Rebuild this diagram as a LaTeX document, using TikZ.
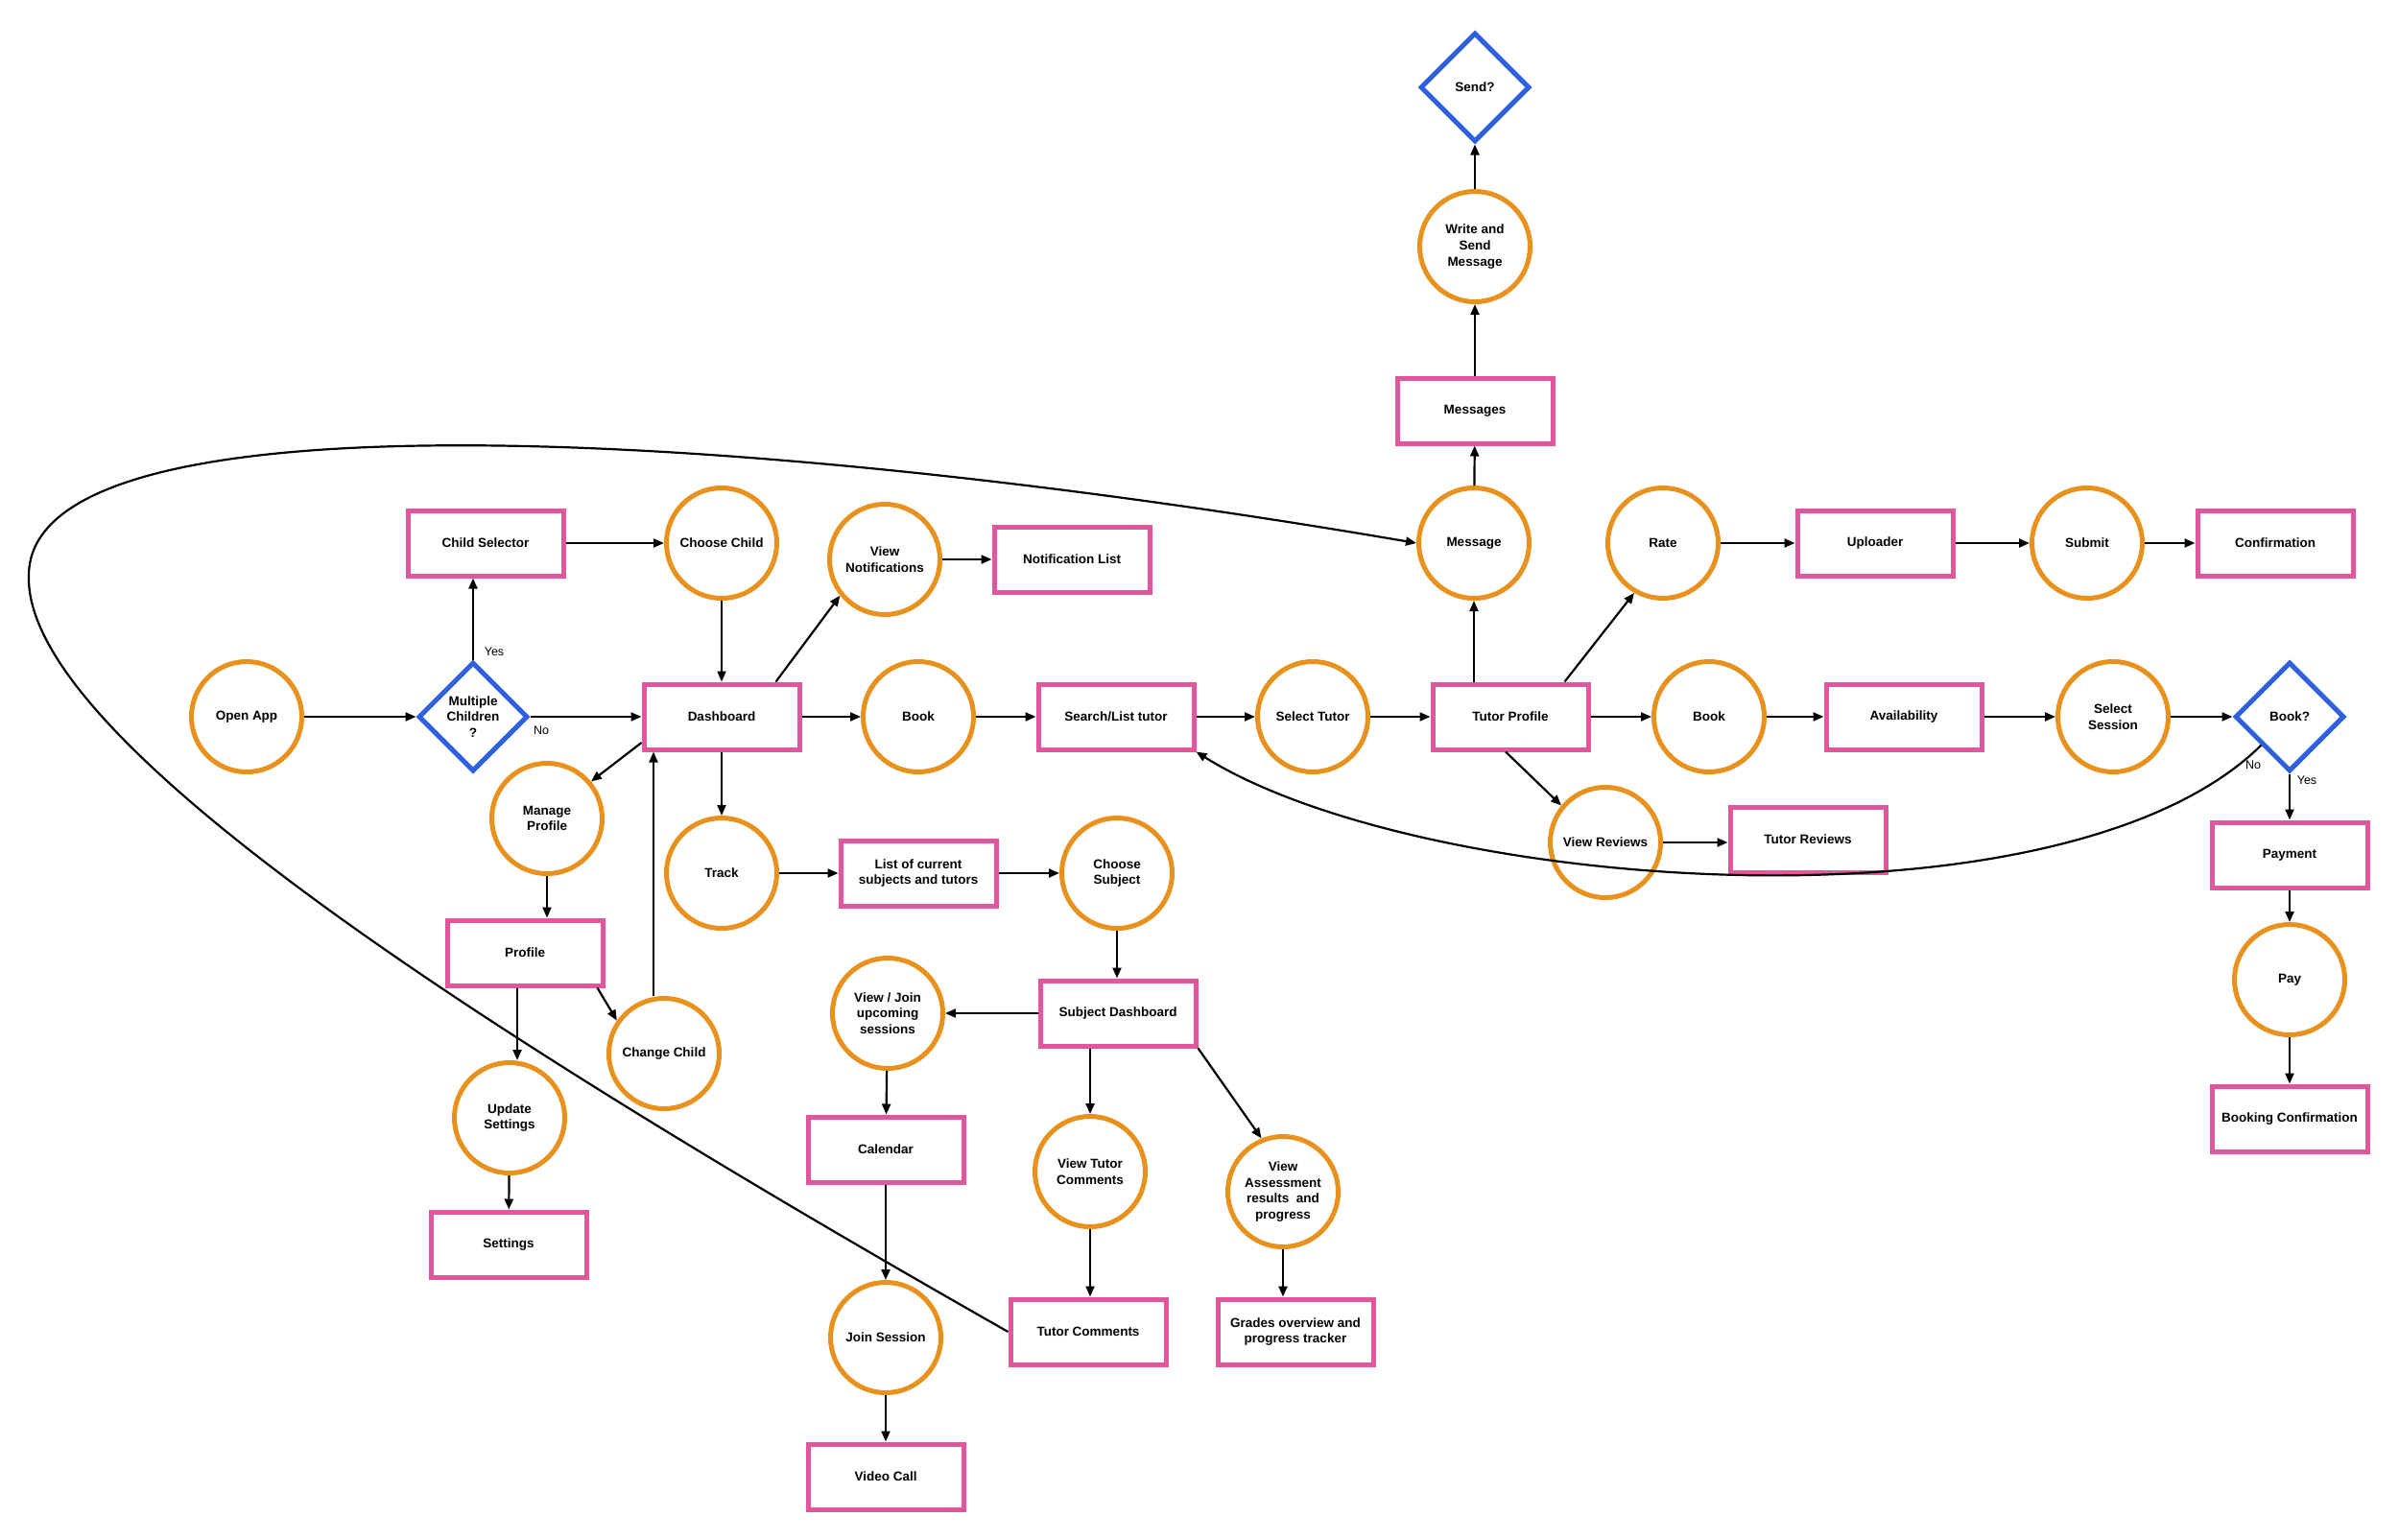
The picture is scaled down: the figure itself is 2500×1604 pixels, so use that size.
\documentclass[tikz,border=0pt]{standalone}
\usepackage{fontspec}
\setmainfont{Liberation Sans}
\usetikzlibrary{shapes.geometric,arrows.meta,calc}
\definecolor{corange}{HTML}{E8911C}
\definecolor{cpink}{HTML}{E0579C}
\definecolor{cblue}{HTML}{2E60E0}
\begin{document}
\begin{tikzpicture}[x=1pt,y=-1pt,
 every node/.style={font=\bfseries\fontsize{13.5}{16.7}\selectfont, align=center, inner sep=0pt},
 proc/.style={circle, draw=corange, line width=5pt, minimum size=115pt},
 box/.style={rectangle, draw=cpink, line width=5pt, minimum width=162pt, minimum height=68pt},
 dec/.style={diamond, aspect=1, draw=cblue, line width=5pt, minimum size=114pt},
 arr/.style={-{Triangle[length=11pt,width=9pt]}, line width=2.2pt, black},
 lbl/.style={font=\fontsize{12.5}{15}\selectfont}
]
\fill[white] (0,0) rectangle (2500,1604);
\useasboundingbox (0,0) rectangle (2500,1604);

\node[dec] (send) at (1537,91) {Send?};
\node[proc] (wsm) at (1537,257) {Write and\\Send\\Message};
\node[box] (msgs) at (1537,428) {Messages};
\node[proc] (msg) at (1536,566) {Message};
\node[box] (csel) at (506,566) {Child Selector};
\node[proc] (cch) at (752,566) {Choose Child};
\node[proc] (vn) at (922,583) {View\\Notifications};
\node[box] (nl) at (1117,583) {Notification List};
\node[proc] (rate) at (1733,566) {Rate};
\node[box] (upl) at (1954,566) {Uploader};
\node[proc] (sub) at (2175,566) {Submit};
\node[box] (conf) at (2371,566) {Confirmation};
\node[proc] (open) at (257,747) {Open App};
\node[dec] (mc) at (493,747) {Multiple\\Children\\?};
\node[box] (db) at (752,747) {Dashboard};
\node[proc] (book) at (957,747) {Book};
\node[box] (sl) at (1163,747) {Search/List tutor};
\node[proc] (st) at (1368,747) {Select Tutor};
\node[box] (tp) at (1574,747) {Tutor Profile};
\node[proc] (book2) at (1781,747) {Book};
\node[box] (av) at (1984,747) {Availability};
\node[proc] (ss) at (2202,747) {Select\\Session};
\node[dec] (bq) at (2386,747) {Book?};
\node[proc] (mp) at (570,853) {Manage\\Profile};
\node[proc] (tr) at (752,910) {Track};
\node[box] (lc) at (957,910) {List of current\\subjects and tutors};
\node[proc] (csub) at (1164,910) {Choose\\Subject};
\node[proc] (vr) at (1673,878) {View Reviews};
\node[box] (trev) at (1884,875) {Tutor Reviews};
\node[box] (pay1) at (2386,891) {Payment};
\node[box] (prof) at (547,993) {Profile};
\node[proc] (pay) at (2386,1021) {Pay};
\node[box] (sd) at (1165,1056) {Subject Dashboard};
\node[proc] (vj) at (925,1056) {View / Join\\upcoming\\sessions};
\node[proc] (chc) at (692,1098) {Change Child};
\node[proc] (us) at (531,1165) {Update\\Settings};
\node[box] (bc) at (2386,1166) {Booking Confirmation};
\node[box] (cal) at (923,1198) {Calendar};
\node[proc] (vtc) at (1136,1221) {View Tutor\\Comments};
\node[proc] (va) at (1337,1242) {View\\Assessment\\results~ and\\progress};
\node[box] (set) at (530,1297) {Settings};
\node[proc] (js) at (923,1394) {Join Session};
\node[box] (tc) at (1134,1388) {Tutor Comments};
\node[box] (gr) at (1350,1388) {Grades overview and\\progress tracker};
\node[box] (vc) at (923,1539) {Video Call};

\draw[arr] (open) -- (mc);
\draw[arr] (mc) -- (db);
\draw[arr] (mc.north) -- (mc.north |- csel.south);
\draw[arr] (csel) -- (cch);
\draw[arr] (cch) -- (db);
\draw[arr] ([xshift=-27pt]db.north east) -- (vn.219);
\draw[arr] (vn) -- (nl);
\draw[arr] (db) -- (book);
\draw[arr] (book) -- (sl);
\draw[arr] (sl) -- (st);
\draw[arr] (st) -- (tp);
\draw[arr] (tp) -- (book2);
\draw[arr] (book2) -- (av);
\draw[arr] (av) -- (ss);
\draw[arr] (ss) -- (bq);
\draw[arr] (msg.south |- tp.north) -- (msg.south);
\draw[arr] (msg) -- (msgs);
\draw[arr] (msgs) -- (wsm);
\draw[arr] (wsm) -- (send);
\draw[arr] ([xshift=-27pt]tp.north east) -- (rate.240);
\draw[arr] (rate) -- (upl);
\draw[arr] (upl) -- (sub);
\draw[arr] (sub) -- (conf);
\draw[arr] (bq) -- (pay1);
\draw[arr] (pay1) -- (pay);
\draw[arr] (pay) -- (bc);
\draw[arr] ([xshift=-5pt]tp.south) -- (vr.140);
\draw[arr] (vr.east) -- (vr.east -| trev.west);
\draw[arr] ([yshift=-27pt]db.west) -- (mp.40);
\draw[arr] (db) -- (tr);
\draw[arr] (tr) -- (lc);
\draw[arr] (lc) -- (csub);
\draw[arr] (csub.south) -- (csub.south |- sd.north);
\draw[arr] (mp.south) -- (mp.south |- prof.north);
\draw[arr] ([xshift=-8pt]prof.south) -- ([xshift=-8pt]prof.south |- us.north);
\draw[arr] (us) -- (set);
\draw[arr] ([xshift=-8pt]prof.south east) -- (chc.145);
\draw[arr] ([xshift=-11pt]chc.north) -- ([xshift=-11pt]chc.north |- db.south);
\draw[arr] (sd) -- (vj);
\draw[arr] (vj) -- (cal);
\draw[arr] (cal) -- (js);
\draw[arr] (js) -- (vc);
\draw[arr] (vtc.north |- sd.south) -- (vtc.north);
\draw[arr] (vtc.south) -- (vtc.south |- tc.north);
\draw[arr] (sd.south east) -- (va.112);
\draw[arr] (va.south) -- (va.south |- gr.north);

\draw[arr] (tc.west) .. controls (500,1075) and (25,770) .. (30,600)
  .. controls (30,400) and (800,450) .. (msg.west);
\draw[arr] (bq.south west) .. controls (2150,980) and (1480,930) .. (sl.south east);

\node[lbl] (yes1) at (515,679) {Yes};
\node[lbl] (no1) at (564,761) {No};
\node[lbl] (no2) at (2348,797) {No};
\node[lbl] (yes2) at (2404,813) {Yes};
\end{tikzpicture}
\end{document}
